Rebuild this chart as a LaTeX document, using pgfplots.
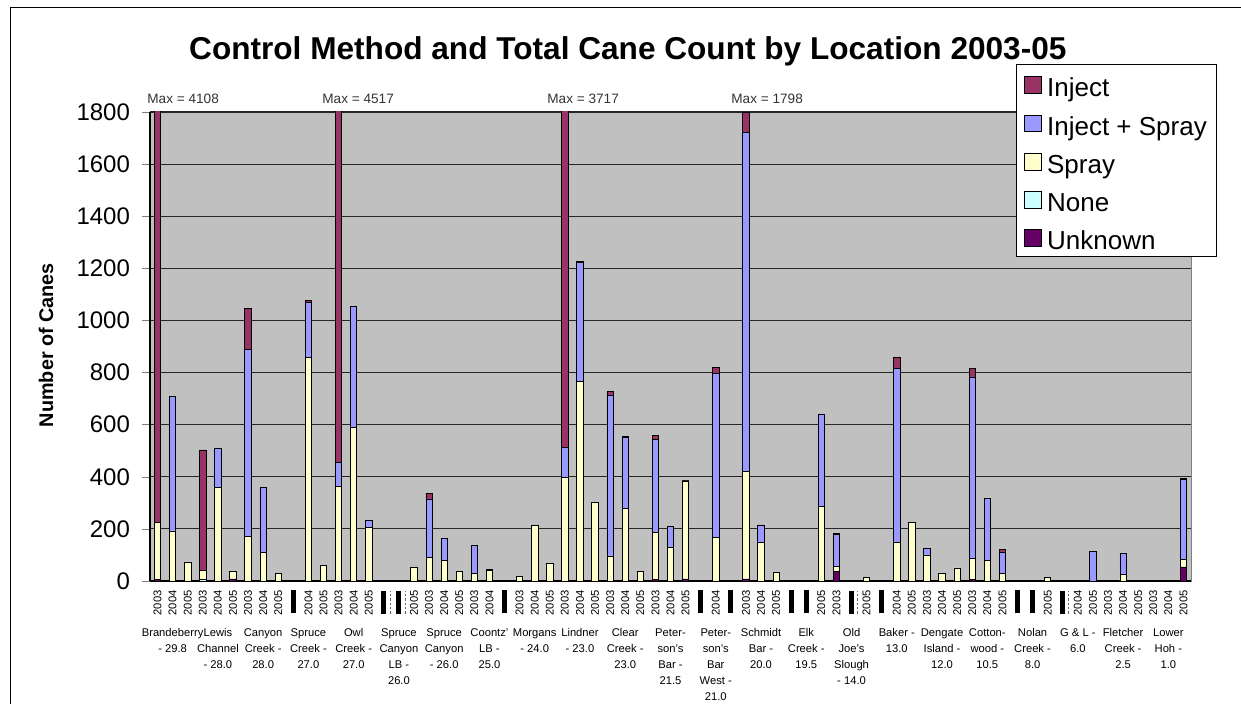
\documentclass[border=0pt]{standalone}
\usepackage{pgfplots}
\pgfplotsset{compat=1.18}
\usepackage{pgfplotstable}
\usepackage{fontspec}
\setmainfont{Liberation Sans}
\definecolor{cinj}{HTML}{993366}
\definecolor{cis}{HTML}{9999FF}
\definecolor{cspray}{HTML}{FFFFCC}
\definecolor{cnone}{HTML}{CCFFFF}
\definecolor{cunk}{HTML}{660066}
\definecolor{cbg}{HTML}{C0C0C0}

\pgfplotstableread{
x unk none spray is inj
0 5 0 220 0 3883
1 0 0 192 515 0
2 0 0 70 0 0
3 0 8 33 0 462
4 0 0 358 150 0
5 8 0 29 0 0
6 0 0 171 719 157
7 0 0 111 247 0
8 0 0 29 0 0
9 0 0 0 0 0
10 0 0 857 213 8
11 0 0 59 0 0
12 0 0 362 92 4063
13 0 0 590 462 0
14 0 0 207 24 3
15 0 0 0 0 0
16 0 0 0 0 0
17 0 0 51 0 0
18 0 0 91 224 22
19 0 0 79 83 0
20 0 0 37 0 0
21 0 0 29 109 0
22 0 0 41 3 0
23 0 0 0 0 0
24 0 0 17 0 0
25 0 0 212 3 0
26 0 0 68 0 0
27 0 0 399 113 3205
28 0 0 766 455 5
29 0 0 303 0 0
30 0 0 96 618 13
31 0 0 279 272 5
32 0 0 36 0 0
33 5 0 182 357 14
34 0 0 129 79 0
35 8 0 376 3 0
36 0 0 0 0 0
37 0 0 166 629 25
38 0 0 0 0 0
39 8 0 413 1301 76
40 0 0 148 64 3
41 0 0 33 0 0
42 0 0 0 0 0
43 0 0 0 0 0
44 0 0 287 354 0
45 36 0 19 124 3
46 0 0 0 0 0
47 0 0 12 0 0
48 0 0 0 0 0
49 0 0 148 667 43
50 0 0 224 0 0
51 0 0 100 24 0
52 0 0 29 0 0
53 0 0 50 0 0
54 5 0 82 696 34
55 0 0 79 237 0
56 0 0 29 80 11
57 0 0 0 0 0
58 0 0 0 0 0
59 0 0 13 0 0
60 0 0 0 0 0
61 0 0 0 0 0
62 0 0 0 113 0
63 0 0 0 0 0
64 0 0 26 79 0
65 0 0 0 0 0
66 0 0 0 0 0
67 0 0 0 0 0
68 54 0 29 307 5
}\canes

\newcommand\Y[1]{\rotatebox{90}{#1}}
\newcommand\B{\rule{2.5pt}{11.5pt}}
\newcommand\D{\rule{2.5pt}{11.5pt}\makebox[0pt][l]{\hspace{1.6pt}\tikz[baseline=0pt]{\draw[black!60,line width=0.3pt,dash pattern=on 1.2pt off 1pt] (0,0)--(0,11.5pt);}}}

\begin{document}
\begin{tikzpicture}
\useasboundingbox (0,0) rectangle (620.5pt,-352pt);
\draw[line width=0.5pt] (5pt,-352pt) -- (5pt,-4pt) -- (620.5pt,-4pt);
\begin{axis}[
  at={(75pt,-290.5pt)}, anchor=south west,
  width=520.5pt, height=234.5pt, scale only axis,
  ybar stacked, bar width=3.2pt,
  xmin=-0.5, xmax=68.5, ymin=0, ymax=1800,
  axis background/.style={fill=cbg, draw=gray},
  axis x line*=bottom, axis y line*=left,
  axis line style={black, line width=0.6pt},
  ytick={0,200,...,1800},
  ymajorgrids, grid style={black!85, line width=0.6pt},
  tick align=outside, major tick length=4pt,
  y tick label style={font=\fontsize{12}{14}\selectfont, xshift=-2.5pt},
  /pgf/number format/assume math mode=true,
  /pgf/number format/1000 sep={},
  xtick={0,...,68}, xtick style={draw=none},
  xticklabels={\Y{2003},\Y{2004},\Y{2005},\Y{2003},\Y{2004},\Y{2005},\Y{2003},\Y{2004},\Y{2005},
    \B,\Y{2004},\Y{2005},\Y{2003},\Y{2004},\Y{2005},\D,\D,\Y{2005},
    \Y{2003},\Y{2004},\Y{2005},\Y{2003},\Y{2004},\B,
    \Y{2003},\Y{2004},\Y{2005},\Y{2003},\Y{2004},\Y{2005},\Y{2003},\Y{2004},\Y{2005},
    \Y{2003},\Y{2004},\Y{2005},\B,\Y{2004},\B,\Y{2003},\Y{2004},\Y{2005},
    \B,\B,\Y{2005},\Y{2003},\D,\Y{2005},\B,\Y{2004},\Y{2005},
    \Y{2003},\Y{2004},\Y{2005},\Y{2003},\Y{2004},\Y{2005},\B,\B,\Y{2005},
    \D,\Y{2004},\Y{2005},\Y{2003},\Y{2004},\Y{2005},\Y{2003},\Y{2004},\Y{2005}},
  x tick label style={anchor=north, inner sep=0pt, font=\fontsize{5.6}{8}\selectfont, yshift=-0.5pt},
  extra x ticks={1,4,...,67},
  extra x tick labels={Brandeberry\\- 29.8, Lewis\\Channel\\- 28.0, Canyon\\Creek -\\28.0,
    Spruce\\Creek -\\27.0, Owl\\Creek -\\27.0, Spruce\\Canyon\\LB -\\26.0, Spruce\\Canyon\\- 26.0,
    Coontz'\\LB -\\25.0, Morgans\\- 24.0, Lindner\\- 23.0, Clear\\Creek -\\23.0,
    Peter-\\son's\\Bar -\\21.5, Peter-\\son's\\Bar\\West -\\21.0, Schmidt\\Bar -\\20.0,
    Elk\\Creek -\\19.5, Old\\Joe's\\Slough\\- 14.0, Baker -\\13.0, Dengate\\Island -\\12.0,
    Cotton-\\wood -\\10.5, Nolan\\Creek -\\8.0, G \& L -\\6.0, Fletcher\\Creek -\\2.5, Lower\\Hoh -\\1.0},
  extra x tick style={major tick length=0pt, tick label style={align=center, font=\fontsize{5.6}{8}\selectfont, yshift=-23pt}},
  title={Control Method and Total Cane Count by Location 2003-05},
  title style={at={(rel axis cs:0.459,1.0853)}, anchor=base, font=\bfseries\fontsize{15.8}{18}\selectfont},
  ylabel={Number of Canes},
  ylabel style={at={(rel axis cs:-0.0999,0.503)}, anchor=center, font=\bfseries\fontsize{9.9}{12}\selectfont},
  reverse legend,
  legend cell align=left,
  legend image code/.code={\path[draw=none, fill=none] (0pt,0pt) rectangle (8.5pt,9.1pt);
    \draw[#1, overlay, draw=black, line width=0.4pt] (0pt,-4.5pt) rectangle (8.5pt,3.9pt);},
  legend style={at={(rel axis cs:0.832,1.1023)}, anchor=north west, draw=black, fill=white,
    font=\fontsize{13}{15}\selectfont, inner xsep=4pt, inner ysep=1pt, row sep=1.5pt, column sep=1.8pt,
    nodes={inner sep=1pt, text height=13.65pt, text depth=1.35pt}},
]
\addplot[fill=cunk, draw=black, line width=0.4pt] table[x=x,y=unk]{\canes};
\addlegendentry{Unknown}
\addplot[fill=cnone, draw=black, line width=0.4pt] table[x=x,y=none]{\canes};
\addlegendentry{None}
\addplot[fill=cspray, draw=black, line width=0.4pt] table[x=x,y=spray]{\canes};
\addlegendentry{Spray}
\addplot[fill=cis, draw=black, line width=0.4pt] table[x=x,y=is]{\canes};
\addlegendentry{Inject + Spray}
\addplot[fill=cinj, draw=black, line width=0.4pt] table[x=x,y=inj]{\canes};
\addlegendentry{Inject}
\end{axis}
\begin{scope}[every node/.style={anchor=base west, font=\fontsize{6.8}{8}\selectfont, inner sep=0pt, text=black!80}]
\node at (73.5pt,-52pt) {Max = 4108};
\node at (161pt,-52pt) {Max = 4517};
\node at (273.5pt,-52pt) {Max = 3717};
\node at (365.5pt,-52pt) {Max = 1798};
\end{scope}
\end{tikzpicture}
\end{document}
